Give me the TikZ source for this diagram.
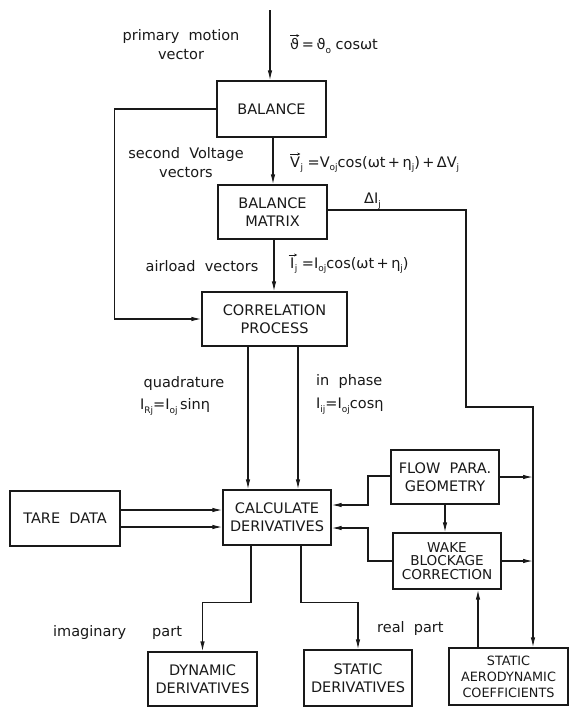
\documentclass[tikz,border=0pt]{standalone}
\usepackage{fontspec}
\setmainfont{DejaVu Sans}
\usetikzlibrary{arrows.meta}
\newcommand{\sbs}[1]{\raisebox{-0.45ex}{\fontsize{9}{9}\selectfont #1}}
\definecolor{ink}{RGB}{25,25,25}
\tikzset{
  box/.style={draw=ink, line width=1.2pt, align=center, inner sep=0pt,
    minimum width=109pt, minimum height=55pt, text=ink,
    font=\fontsize{14.5}{18}\selectfont},
  lbl/.style={inner sep=0pt, text=ink, font=\fontsize{14.5}{19}\selectfont},
  conn/.style={draw=ink, line width=1.2pt},
  arr/.style={conn, -{Latex[length=10pt,width=4.5pt]}},
  vecarr/.style={draw=ink, line width=0.7pt, -{Stealth[length=3pt,width=3pt]}}
}
\begin{document}
\begin{tikzpicture}[x=1pt,y=-1pt]
\useasboundingbox (0,0) rectangle (569,707);
\fill[white] (0,0) rectangle (569,707);
% boxes
\node[box, minimum height=56pt] (bal) at (271.5,109) {BALANCE};
\node[box, minimum height=54pt] (mat) at (272.5,212) {BALANCE\\MATRIX};
\node[box, minimum width=145pt, minimum height=54pt] (cor) at (274.5,319) {CORRELATION\\PROCESS};
\node[box, minimum width=108pt] (calc) at (277,517.5) {CALCULATE\\DERIVATIVES};
\node[box, minimum width=110pt] (tare) at (65,518.5) {TARE\ \ DATA};
\node[box, minimum width=108pt, minimum height=54pt] (flow) at (445,477) {FLOW\ \ PARA.\\GEOMETRY};
\node[box, minimum width=108pt, minimum height=56pt, font=\fontsize{13.6}{13.8}\selectfont] (wake) at (447,561) {WAKE\\BLOCKAGE\\CORRECTION};
\node[box, minimum height=54pt] (dyn) at (202.5,679) {DYNAMIC\\DERIVATIVES};
\node[box, minimum width=108pt, minimum height=56pt] (sder) at (358,678) {STATIC\\DERIVATIVES};
\node[box, minimum width=119pt, minimum height=57pt, font=\fontsize{12.8}{16}\selectfont] (saero) at (508.5,676.5) {STATIC\\AERODYNAMIC\\COEFFICIENTS};
% labels
\node[lbl, align=center] (lpm) at (181,45) {primary\ \ motion\\vector};
\node[lbl, anchor=west] (vth) at (290,44) {ϑ};
\node[lbl, anchor=base west] (lth) at (vth.base east) {\,=\,ϑ\sbs{o} cosωt};
\draw[vecarr] ([yshift=2.5pt]vth.north west) -- ([yshift=2.5pt]vth.north east);
\node[lbl, align=center] (lsv) at (186,163) {second\ \ Voltage\\vectors};
\node[lbl, anchor=west] (vvj) at (290,162) {V};
\node[lbl, anchor=base west] (lvj) at (vvj.base east) {\sbs{j} =V\sbs{oj}cos(ωt\,+\,η\sbs{j})\,+\,ΔV\sbs{j}};
\draw[vecarr] ([yshift=2.5pt]vvj.north west) -- ([yshift=2.5pt]vvj.north east);
\node[lbl, anchor=west] (ldi) at (364,201) {ΔI\sbs{j}};
\node[lbl] (lav) at (202,266) {airload\ \ vectors};
\node[lbl, anchor=west] (vij) at (290,263) {I};
\node[lbl, anchor=base west] (lij) at (vij.base east) {\sbs{j} =I\sbs{oj}cos(ωt\,+\,η\sbs{j})};
\draw[vecarr] ([xshift=-1.5pt,yshift=2.5pt]vij.north west) -- ([xshift=2.5pt,yshift=2.5pt]vij.north east);
\node[lbl] (lq) at (184,383) {quadrature};
\node[lbl, anchor=west] (lqf) at (140,407) {I\sbs{Rj}=I\sbs{oj}\,sinη};
\node[lbl, anchor=west] (lip) at (316,381) {in\ \ phase};
\node[lbl, anchor=west] (lipf) at (316,406) {I\sbs{ij}=I\sbs{oj}cosη};
\node[lbl, anchor=west] (lim) at (53,632) {imaginary};
\node[lbl, anchor=west] (lpt) at (152,633) {part};
\node[lbl, anchor=west] (lrp) at (377,628) {real\ \ part};
% coordinates
\coordinate (in) at (270,10);
\coordinate (r1) at (533,407);
% connectors
\draw[arr] (in) -- (in |- bal.north);
\draw[arr] ([xshift=1.5pt]bal.south) -- ([xshift=1.5pt]bal.south |- mat.north);
\draw[arr] ([xshift=1.5pt]mat.south) -- ([xshift=1.5pt]mat.south |- cor.north);
\draw[arr] (bal.west) -- ++(-102,0) |- (cor.west);
\draw[arr] ([yshift=2pt]mat.east) -| (466,407) -- (r1) -- (r1 |- saero.north);
\draw[arr] (flow.east) -- (flow.east -| r1);
\draw[arr] (wake.east) -- (wake.east -| r1);
\draw[arr] ([yshift=1pt]flow.west) -- (368,476) |- ([yshift=12.5pt]calc.east);
\draw[arr] (wake.west) -- (368,561) |- ([yshift=-10.5pt]calc.east);
\draw[arr] (flow.south) -- (flow.south |- wake.north);
\draw[arr] ([xshift=-30.5pt]saero.north) -- ([xshift=-30.5pt]saero.north |- wake.south);
\draw[arr] ([xshift=-26.5pt]cor.south) -- ([xshift=-26.5pt]cor.south |- calc.north);
\draw[arr] ([xshift=23.5pt]cor.south) -- ([xshift=23.5pt]cor.south |- calc.north);
\draw[arr] ([yshift=8.5pt]tare.east) -- ([yshift=8.5pt]tare.east -| calc.west);
\draw[arr] ([yshift=-8.5pt]tare.east) -- ([yshift=-8.5pt]tare.east -| calc.west);
\draw[arr] ([xshift=-26pt]calc.south) -- ++(0,57) -| (dyn.north);
\draw[arr] ([xshift=24pt]calc.south) -- ++(0,57) -| (sder.north);
\end{tikzpicture}
\end{document}
